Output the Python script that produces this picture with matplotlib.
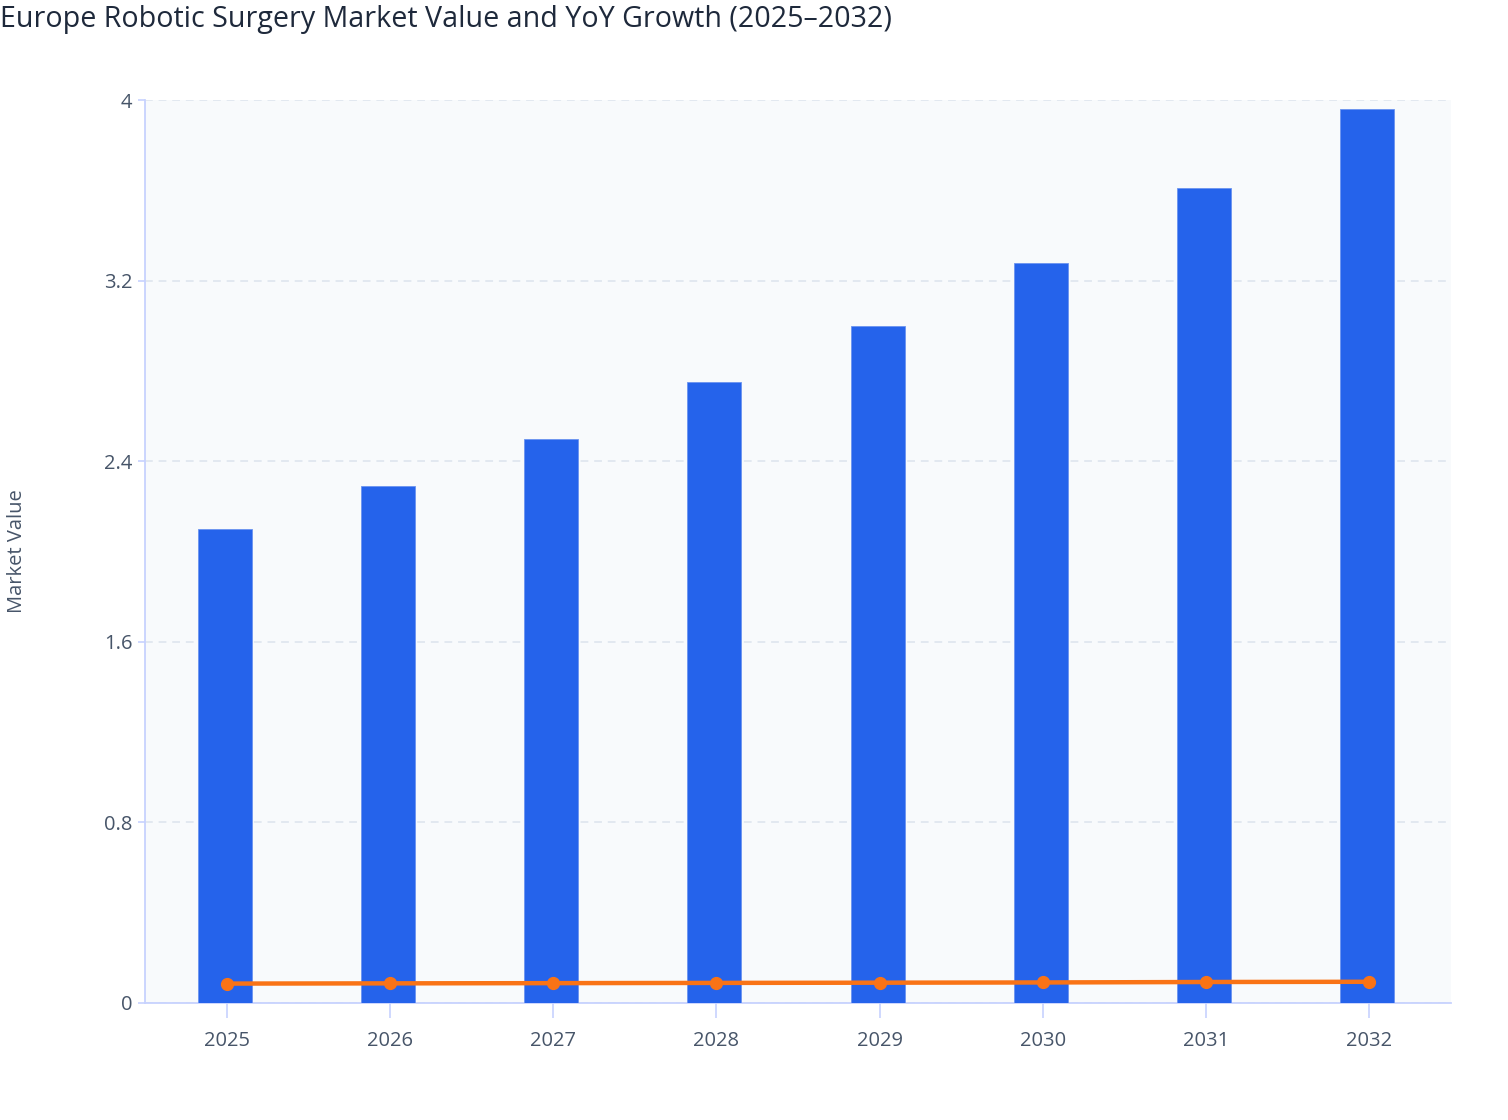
import matplotlib
matplotlib.use("Agg")
import matplotlib.pyplot as plt
import numpy as np

plt.rcParams['font.family'] = ['Open Sans', 'DejaVu Sans']

years = ["2025", "2026", "2027", "2028", "2029", "2030", "2031", "2032"]
market_value = [2.10, 2.29, 2.50, 2.75, 3.00, 3.28, 3.61, 3.96]
yoy_growth = [0.086, 0.087, 0.088, 0.089, 0.090, 0.091, 0.093, 0.094]
y_ticks = [0, 0.8, 1.6, 2.4, 3.2, 4]
y_tick_labels = ["0", "0.8", "1.6", "2.4", "3.2", "4"]

fig = plt.figure(figsize=(15.08, 11.2), dpi=100)
ax = fig.add_axes([145/1508, 1 - 1003/1120, (1451-145)/1508, (1003-100)/1120])
ax.set_facecolor("#f8fafc")

x = np.arange(len(years))
ax.bar(x - 0.012, market_value, width=0.33, color="#2563eb", edgecolor="#6b93f0", linewidth=0.6, zorder=3)
ax.plot(x, yoy_growth, color="#f97316", linewidth=3.2, marker="o", markersize=8.5, zorder=4)

ax.set_xlim(-0.5, len(years) - 0.5)
ax.set_ylim(0, 4)
ax.set_yticks(y_ticks)
ax.set_yticklabels(y_tick_labels)
ax.set_xticks(x)
ax.set_xticklabels(years)

ax.yaxis.grid(True, color="#e2e8f0", linestyle=(0, (4, 3)), linewidth=1.4, zorder=0)
ax.set_axisbelow(True)

for s in ["top", "right"]:
    ax.spines[s].set_visible(False)
for s in ["left", "bottom"]:
    ax.spines[s].set_color("#c7d2fe")
    ax.spines[s].set_linewidth(1.3)

ax.tick_params(axis="x", colors="#c7d2fe", length=11, width=1.2, labelcolor="#475569", labelsize=14.5, pad=9)
ax.tick_params(axis="y", colors="#c7d2fe", length=5, width=1.2, labelcolor="#475569", labelsize=14.5, pad=4)

ax.set_ylabel("Market Value", color="#475569", fontsize=14.5, labelpad=0)
ax.yaxis.set_label_coords(-118/1306, 0.5)

fig.text(0.0, 1 - 19/1120, "Europe Robotic Surgery Market Value and YoY Growth (2025–2032)",
         ha="left", va="center", fontsize=20.6, color="#1e293b")

fig.savefig("out.png", dpi=100, facecolor="white")
